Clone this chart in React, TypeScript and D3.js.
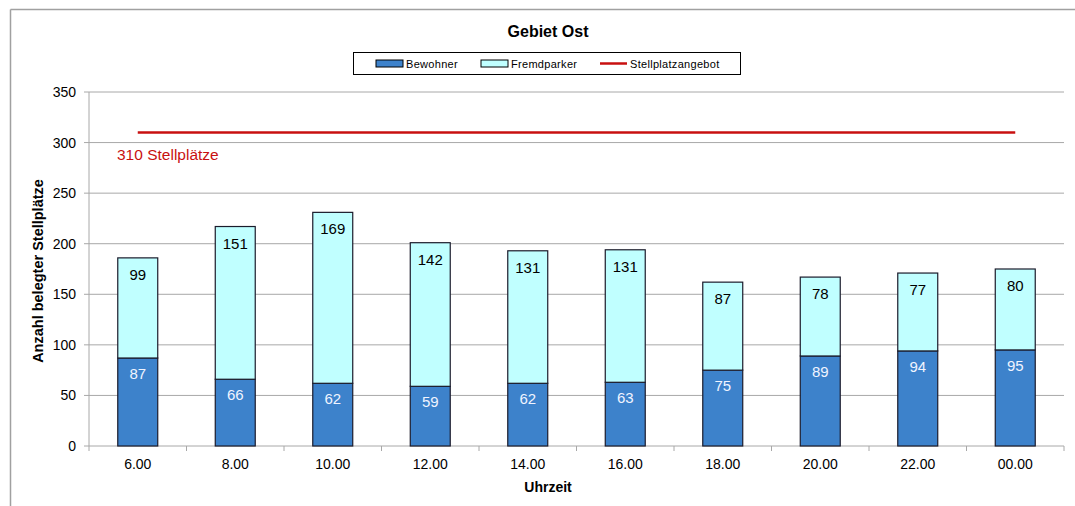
import React from "react";
import * as d3 from "d3";

const categories = ["6.00", "8.00", "10.00", "12.00", "14.00", "16.00", "18.00", "20.00", "22.00", "00.00"];
const bewohner = [87, 66, 62, 59, 62, 63, 75, 89, 94, 95];
const fremdparker = [99, 151, 169, 142, 131, 131, 87, 78, 77, 80];
const capacity = 310;
const yTicks = [0, 50, 100, 150, 200, 250, 300, 350];

const W = 1075;
const H = 506;
const M = { left: 89, right: 1064, top: 92, bottom: 446 };
const FONT = "Arial, 'Liberation Sans', sans-serif";
const C_BEW = "#3d82cb";
const C_FREMD = "#c0ffff";
const C_RED = "#c81010";

export default function App() {
  const x = d3.scaleBand<string>().domain(categories).range([M.left, M.right]).paddingInner(0.59).paddingOuter(0.295);
  const xb = d3.scaleBand<string>().domain(categories).range([M.left, M.right]);
  const y = d3.scaleLinear().domain([0, 350]).range([M.bottom, M.top]);
  const bw = x.bandwidth();
  const firstC = (xb(categories[0]) as number) + xb.bandwidth() / 2;
  const lastC = (xb(categories[categories.length - 1]) as number) + xb.bandwidth() / 2;

  return (
    <svg width={W} height={H} style={{ position: "absolute", left: 0, top: 0, background: "#fff" }} fontFamily={FONT}>
      <rect x={0} y={0} width={W} height={H} fill="#fff" />
      {/* outer frame */}
      <line x1={10.5} y1={9.5} x2={W} y2={9.5} stroke="#a0a0a0" strokeWidth={1.5} />
      <line x1={10.5} y1={9.5} x2={10.5} y2={H} stroke="#a0a0a0" strokeWidth={1.5} />

      <text x={548} y={37} textAnchor="middle" fontSize={16} fontWeight="bold" fill="#000">Gebiet Ost</text>

      {/* legend */}
      <rect x={353.5} y={52.5} width={387} height={22} fill="#fff" stroke="#000" strokeWidth={1} />
      <rect x={376} y={60} width={27} height={7} fill={C_BEW} stroke="#000" strokeWidth={1} />
      <text x={406} y={68} fontSize={11} letterSpacing={0.3} fill="#000">Bewohner</text>
      <rect x={481} y={60} width={27} height={7} fill={C_FREMD} stroke="#000" strokeWidth={1} />
      <text x={511} y={68} fontSize={11} letterSpacing={0.3} fill="#000">Fremdparker</text>
      <line x1={600} y1={63.5} x2={627} y2={63.5} stroke={C_RED} strokeWidth={2.5} />
      <text x={630} y={68} fontSize={11} letterSpacing={0.3} fill="#000">Stellplatzangebot</text>

      {/* gridlines */}
      {yTicks.map((t) => (
        <g key={t}>
          {t > 0 && <line x1={M.left} x2={M.right} y1={y(t)} y2={y(t)} stroke="#a8a8a8" strokeWidth={1} />}
          <line x1={M.left - 5} x2={M.left} y1={y(t)} y2={y(t)} stroke="#a8a8a8" strokeWidth={1} />
          <text x={M.left - 13} y={y(t) + 5} textAnchor="end" fontSize={14} fill="#000">{t}</text>
        </g>
      ))}
      {/* axes */}
      <line x1={M.left} x2={M.left} y1={M.top} y2={M.bottom} stroke="#a8a8a8" strokeWidth={1} />
      <line x1={M.left} x2={M.right} y1={M.bottom} y2={M.bottom} stroke="#a8a8a8" strokeWidth={1} />
      {categories.map((c, i) => (
        <line key={"tk" + i} x1={xb(c) as number} x2={xb(c) as number} y1={M.bottom} y2={M.bottom + 5} stroke="#a8a8a8" />
      ))}
      <line x1={M.right} x2={M.right} y1={M.bottom} y2={M.bottom + 5} stroke="#a8a8a8" />

      {/* bars */}
      {categories.map((c, i) => {
        const x0 = x(c) as number;
        const b = bewohner[i];
        const f = fremdparker[i];
        return (
          <g key={c}>
            <rect x={x0} y={y(b)} width={bw} height={y(0) - y(b)} fill={C_BEW} stroke="#1b1b2b" strokeWidth={1.2} />
            <rect x={x0} y={y(b + f)} width={bw} height={y(b) - y(b + f)} fill={C_FREMD} stroke="#1b1b2b" strokeWidth={1.2} />
            <text x={x0 + bw / 2} y={y(b) + 21} textAnchor="middle" fontSize={15} fill="#f0f4ff">{b}</text>
            <text x={x0 + bw / 2} y={y(b + f) + 22} textAnchor="middle" fontSize={15} fill="#000">{f}</text>
          </g>
        );
      })}

      {/* capacity line */}
      <line x1={firstC} x2={lastC} y1={y(capacity)} y2={y(capacity)} stroke={C_RED} strokeWidth={2.5} />
      <text x={117} y={160} fontSize={15.5} fill={C_RED}>{capacity} Stellplätze</text>

      {/* x labels */}
      {categories.map((c) => (
        <text key={"xl" + c} x={(xb(c) as number) + xb.bandwidth() / 2} y={469} textAnchor="middle" fontSize={14} fill="#000">{c}</text>
      ))}
      <text x={548} y={492} textAnchor="middle" fontSize={14} fontWeight="bold" fill="#000">Uhrzeit</text>
      <text transform={`translate(43,${271}) rotate(-90)`} textAnchor="middle" fontSize={14.5} fontWeight="bold" fill="#000">Anzahl belegter Stellplätze</text>
    </svg>
  );
}
